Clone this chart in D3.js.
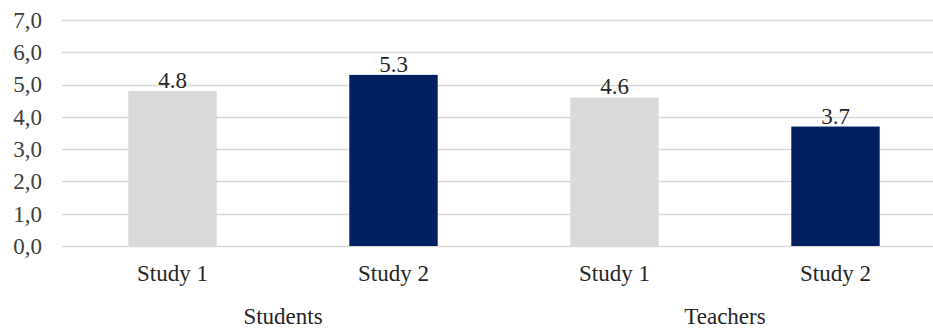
<!DOCTYPE html>
<html>
<head>
<meta charset="utf-8">
<script src="https://cdn.jsdelivr.net/npm/d3@7"></script>
<style>
  body { margin: 0; background: #fff; }
  svg { display: block; }
  svg text { font-family: "Liberation Serif", "Times New Roman", serif; }
</style>
</head>
<body>
<svg id="chart" width="933" height="329"></svg>
<script>
// Data
const groups = ['Students', 'Teachers'];
const studies = ['Study 1', 'Study 2'];
const values = [4.8, 5.3, 4.6, 3.7];
const yTicks = [0, 1, 2, 3, 4, 5, 6, 7];

const COLORS = {'Study 1': '#d9d9d9', 'Study 2': '#002060'};
const FONT_SIZE = 23;

// Layout
const PLOT_LEFT = 62;
const PLOT_RIGHT = 946;
const PLOT_TOP = 20;
const PLOT_BOTTOM = 246;

// One row per bar: group + study
let rows = [];
groups.forEach(function(g, gi) {
  studies.forEach(function(s, si) {
    rows.push({key: g + '|' + s, group: g, study: s, value: values[gi * studies.length + si]});
  });
});

const svg = d3.select('#chart');

const x = d3.scaleBand()
    .domain(rows.map(function(r) { return r.key; }))
    .range([PLOT_LEFT, PLOT_RIGHT])
    .paddingInner(0.6)
    .paddingOuter(0.3);

const y = d3.scaleLinear()
    .domain([0, 7])
    .range([PLOT_BOTTOM, PLOT_TOP]);

// Gridlines
svg.append('g')
    .selectAll('line')
    .data(yTicks)
    .join('line')
    .attr('x1', PLOT_LEFT)
    .attr('x2', 933)
    .attr('y1', function(d) { return Math.round(y(d)) + 0.5; })
    .attr('y2', function(d) { return Math.round(y(d)) + 0.5; })
    .attr('stroke', '#d9d9d9')
    .attr('stroke-width', 1.3);

// Y axis labels
const yAxis = d3.axisLeft(y)
    .tickValues(yTicks)
    .tickSize(0)
    .tickPadding(0)
    .tickFormat(function(d) { return d3.format('.1f')(d).replace('.', ','); });

svg.append('g')
    .attr('transform', 'translate(42,0)')
    .call(yAxis)
    .attr('font-family', null)
    .attr('font-size', null)
    .call(function(g) { g.select('.domain').remove(); })
    .selectAll('text')
    .style('font-size', FONT_SIZE + 'px')
    .attr('fill', '#404040');

// Bars
svg.append('g')
    .selectAll('rect')
    .data(rows)
    .join('rect')
    .attr('x', function(r) { return x(r.key); })
    .attr('y', function(r) { return y(r.value); })
    .attr('width', x.bandwidth())
    .attr('height', function(r) { return y(0) - y(r.value); })
    .attr('fill', function(r) { return COLORS[r.study]; });

// Value labels
svg.append('g')
    .selectAll('text')
    .data(rows)
    .join('text')
    .attr('x', function(r) { return x(r.key) + x.bandwidth() / 2; })
    .attr('y', function(r) { return y(r.value) - 3; })
    .attr('text-anchor', 'middle')
    .style('font-size', FONT_SIZE + 'px')
    .attr('fill', '#262626')
    .text(function(r) { return r.value.toFixed(1); });

// Category labels
svg.append('g')
    .selectAll('text')
    .data(rows)
    .join('text')
    .attr('x', function(r) { return x(r.key) + x.bandwidth() / 2; })
    .attr('y', 281)
    .attr('text-anchor', 'middle')
    .style('font-size', FONT_SIZE + 'px')
    .attr('fill', '#262626')
    .text(function(r) { return r.study; });

// Group labels, centred under their bars
svg.append('g')
    .selectAll('text')
    .data(groups)
    .join('text')
    .attr('x', function(g) {
      const first = x(g + '|' + studies[0]);
      const last = x(g + '|' + studies[studies.length - 1]) + x.bandwidth();
      return (first + last) / 2;
    })
    .attr('y', 324)
    .attr('text-anchor', 'middle')
    .style('font-size', FONT_SIZE + 'px')
    .attr('fill', '#262626')
    .text(function(g) { return g; });
</script>
</body>
</html>
